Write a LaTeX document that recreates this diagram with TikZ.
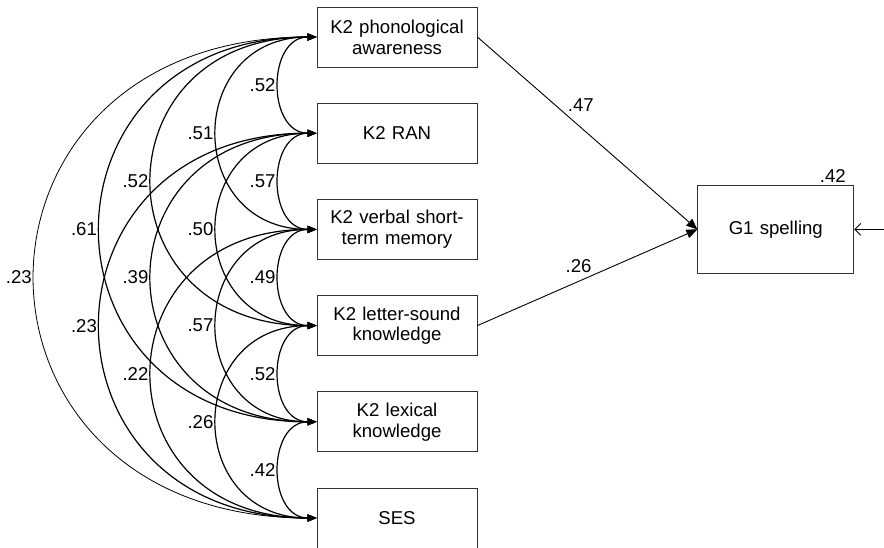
\documentclass[tikz,border=0pt]{standalone}
\usepackage{fontspec}
\setmainfont{Liberation Sans}
\usetikzlibrary{arrows.meta, positioning}
\tikzset{
    % Base Variable Box
    varBox/.style={
        rectangle,
        draw=black!80,
        minimum width=80pt,
        minimum height=30pt,
        text width=74pt,
        align=center,
        inner sep=0pt,
        font=\fontsize{9.3}{10.4}\selectfont
    },
    outcomeBox/.style={varBox, minimum width=78pt, minimum height=44pt},
    % Arrow & Label Styles
    cov/.style={{Triangle[length=4.5pt, width=3.5pt]}-{Triangle[length=4.5pt, width=3.5pt]}, line width=0.6pt},
    covOuter/.style={cov, line width=0.4pt},
    effect/.style={-{Triangle[length=5.5pt, width=4.5pt]}, line width=0.45pt},
    resid/.style={-{Straight Barb[length=3pt, width=6pt]}, line width=0.45pt},
    coef/.style={font=\fontsize{9.3}{10.4}\selectfont, inner sep=1.5pt}
}

\begin{document}
\begin{tikzpicture}[
    node distance=17.7pt and 110pt
]
    \useasboundingbox (-198.5pt,18.5pt) rectangle (243.5pt,-255pt);

    % --- KINDERGARTEN PREDICTORS ---
    \node (phon) [varBox] {K2 phonological\\awareness};
    \node (ran) [varBox, below=of phon] {K2 RAN};
    \node (vstm) [varBox, below=of ran] {K2 verbal short-\\term memory};
    \node (lsk) [varBox, below=of vstm] {K2 letter-sound\\knowledge};
    \node (lex) [varBox, below=of lsk] {K2 lexical\\knowledge};
    \node (ses) [varBox, below=of lex] {SES};

    % --- GRADE 1 OUTCOME ---
    \node (spell) [outcomeBox, right=of vstm] {G1 spelling};
    \node [coef, anchor=south east, inner sep=1pt] at ([xshift=-3pt]spell.north east) {.42};
    \coordinate (err) at ([xshift=15.5pt]spell.east);

    % --- Paths ---
    \draw [effect] (phon.east) -- node[coef, pos=0.4, above right, inner sep=1pt] {.47} (spell.west);
    \draw [effect] (lsk.east) -- node[coef, pos=0.46, above=3pt, inner sep=1pt] {.26} (spell.west);
    \draw [resid] (err) -- (spell.east);

    % --- Correlations (neighbours) ---
    \draw [cov] (phon.west) to[out=180, in=180, looseness=1.33] node[coef, left] {.52} (ran.west);
    \draw [cov] (ran.west) to[out=180, in=180, looseness=1.33] node[coef, left] {.57} (vstm.west);
    \draw [cov] (vstm.west) to[out=180, in=180, looseness=1.33] node[coef, left] {.49} (lsk.west);
    \draw [cov] (lsk.west) to[out=180, in=180, looseness=1.33] node[coef, left] {.52} (lex.west);
    \draw [cov] (lex.west) to[out=180, in=180, looseness=1.33] node[coef, left] {.42} (ses.west);

    % --- Correlations (one apart) ---
    \draw [cov] (phon.west) to[out=180, in=180, looseness=1.77] node[coef, left] {.51} (vstm.west);
    \draw [cov] (ran.west) to[out=180, in=180, looseness=1.77] node[coef, left] {.50} (lsk.west);
    \draw [cov] (vstm.west) to[out=180, in=180, looseness=1.77] node[coef, left] {.57} (lex.west);
    \draw [cov] (lsk.west) to[out=180, in=180, looseness=1.77] node[coef, left] {.26} (ses.west);

    % --- Correlations (two apart) ---
    \draw [cov] (phon.west) to[out=180, in=180, looseness=1.95] node[coef, left] {.52} (lsk.west);
    \draw [cov] (ran.west) to[out=180, in=180, looseness=1.95] node[coef, left] {.39} (lex.west);
    \draw [cov] (vstm.west) to[out=180, in=180, looseness=1.95] node[coef, left] {.22} (ses.west);

    % --- Correlations (far apart) ---
    \draw [cov] (phon.west) to[out=180, in=180, looseness=1.92] node[coef, left] {.61} (lex.west);
    \draw [cov] (ran.west) to[out=180, in=180, looseness=1.92] node[coef, left] {.23} (ses.west);
    \draw [covOuter] (phon.west) to[out=180, in=180, looseness=2.0] node[coef, left] {.23} (ses.west);

\end{tikzpicture}
\end{document}
